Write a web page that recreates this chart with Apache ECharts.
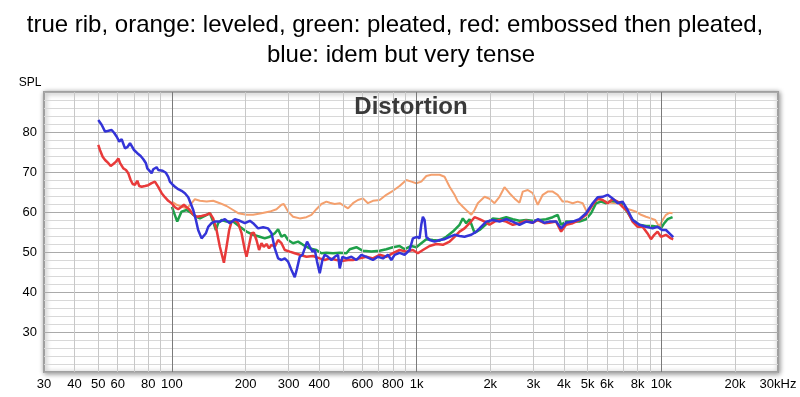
<!DOCTYPE html>
<html>
<head>
<meta charset="utf-8">
<script src="https://cdn.jsdelivr.net/npm/echarts@6/dist/echarts.min.js"></script>
<style>
  html, body { margin: 0; padding: 0; background: #fff; }
  #chart { width: 800px; height: 397px; }
</style>
</head>
<body>
<div id="chart"></div>
<script>
// axis ticks (Hz / dB)
var xLabelValues = [30, 40, 50, 60, 80, 100, 200, 300, 400, 600, 800, 1000, 2000, 3000, 4000, 5000, 6000, 8000, 10000, 20000, 30000];
var xMinorLines = [40, 50, 60, 70, 80, 90, 200, 300, 400, 500, 600, 700, 800, 900,
  2000, 3000, 4000, 5000, 6000, 7000, 8000, 9000, 20000];
var xDecadeLines = [100, 1000, 10000];
var yLabelValues = [30, 40, 50, 60, 70, 80];

// blue: idem but very tense
var blueHz = [
  50, 51.6, 53.3, 55, 56.7, 58, 59.5, 60.9, 62.3, 64.3,
  65.7, 67.4, 70, 72.2, 74.5, 76.4, 78.3, 79.3, 80.8, 82.6,
  83.9, 86.6, 87.9, 89.3, 91.6, 94.5, 96.6, 98.1, 100.7, 102.9,
  106.1, 109.5, 113, 116.6, 119.2, 122.2, 125.3, 128, 132.2, 134.2,
  137.7, 140.7, 145.2, 149.8, 157, 164.6, 172.5, 180.8, 189.5, 198.6,
  208.2, 214.7, 225, 235.9, 247.2, 255.3, 263.3, 271.6, 280.4, 289.2,
  298.3, 308, 317.7, 324.7, 333, 341.6, 349.1, 356.7, 365.9, 375.3,
  383.5, 391.9, 401.9, 412.2, 421.2, 434.5, 448.6, 462.8, 477.4, 485.1,
  497.5, 516.6, 541.5, 567.5, 594.8, 623.4, 663.1, 695, 728.5, 763.6,
  788.3, 813.2, 852.3, 893.3, 936.3, 965.8, 1003, 1028, 1045, 1061,
  1078, 1096, 1130, 1185, 1242, 1301, 1364, 1429, 1498, 1570,
  1673, 1753, 1808, 1926, 2049, 2182, 2324, 2472, 2633, 2804,
  2983, 3127, 3331, 3491, 3718, 3896, 4083, 4345, 4628, 4928,
  5244, 5495, 5759, 6036, 6326, 6629, 6950, 7285, 7636, 8133,
  8662, 9215, 9658, 10067, 10452, 10955, 11194
];
var blueSpl = [
  83, 81.8, 80.1, 80.3, 80.5, 79.8, 78.8, 77.6, 78.2, 75.9,
  76.2, 77.2, 75.5, 74.7, 74, 73.2, 72.2, 70.9, 70.5, 69.7,
  70.7, 71.2, 70.5, 70.1, 70.3, 69.8, 68.8, 67.6, 66.8, 66.3,
  65.7, 65.3, 64.7, 63.7, 62.2, 60.5, 58, 55.5, 53.4, 53,
  54.7, 56.3, 57.2, 57.6, 57.6, 58.2, 57.2, 58.2, 57.8, 57.2,
  57.8, 57.2, 55.9, 56.2, 55.9, 54.7, 50.9, 48.4, 48, 48.4,
  47.6, 45.5, 43.7, 45.9, 48.8, 49.3, 50.9, 52.6, 51.3, 50.1,
  50.5, 47.6, 44.7, 48, 49.3, 48.8, 48, 48.8, 49.3, 45.9,
  48.8, 48.4, 48.8, 48, 49.3, 48.8, 48, 48.8, 48.4, 49.3,
  48, 49.3, 49.8, 49.3, 50.5, 53.4, 53.8, 53.4, 56.8, 58.8,
  58, 53.8, 53, 52.6, 53, 53.2, 53.8, 54.3, 54, 53.8,
  54.3, 55.1, 55.9, 57.6, 58, 57.6, 58.2, 57.6, 56.8, 57.6,
  57.3, 58.2, 57.3, 57.6, 57.6, 55.9, 57.3, 57.6, 58.2, 59.7,
  62.2, 63.7, 63.8, 64.3, 63.4, 62.2, 62.6, 60.5, 58, 56.8,
  56.3, 55.9, 56.3, 55.5, 55.5, 54.3, 53.7
];

// red: embossed then pleated
var redHz = [
  50, 50.8, 52.1, 53.3, 55, 56.2, 57.6, 59.1, 60.4, 61.4,
  63.3, 64.9, 66.3, 67.8, 69.1, 70.6, 72.2, 73.5, 75.2, 77.6,
  80, 82.6, 85.2, 87.9, 90.8, 93.6, 96.6, 99.7, 102.9, 106.1,
  109.5, 111.9, 114.8, 117.6, 122.2, 126.1, 132.2, 138.6, 142.9, 147.4,
  152.2, 157, 163.1, 167.2, 171.4, 175.3, 180.8, 186.5, 192.6, 198.6,
  201.8, 206.8, 211.5, 216.1, 221.6, 227.1, 232.3, 237.4, 243.5, 249.5,
  255.3, 263.3, 271.6, 280.4, 289.2, 303.1, 317.7, 333, 354.6, 377.3,
  401.9, 421.2, 441.5, 470.1, 500.4, 524.4, 549.5, 585.2, 623.4, 663.1,
  706.3, 752, 800.4, 852.3, 907.8, 965.8, 1012, 1061, 1130, 1204,
  1281, 1364, 1429, 1498, 1570, 1646, 1725, 1808, 1896, 1986,
  2082, 2182, 2324, 2472, 2633, 2804, 2983, 3127, 3331, 3491,
  3718, 3896, 4083, 4345, 4628, 4928, 5244, 5495, 5759, 6036,
  6326, 6629, 6950, 7285, 7636, 8006, 8389, 8777, 9078, 9364,
  9658, 9972, 10452, 10955, 11194
];
var redSpl = [
  76.8, 75.5, 73.8, 73, 72.2, 71.5, 72, 72.6, 73.4, 72.2,
  70.9, 70.5, 69.7, 68, 67, 66.8, 67.8, 66.5, 66.3, 66.5,
  66.7, 67.2, 67.6, 66.3, 64.7, 63.7, 62.8, 62.2, 61.2, 60.7,
  61.3, 61.8, 61.2, 60.7, 59.3, 58.8, 59, 59.3, 59.7, 58.4,
  55.5, 51.3, 47.3, 51.3, 55.5, 57.6, 58, 57.2, 54.7, 50.5,
  48.8, 51.8, 54.7, 54.8, 53, 50.5, 52.2, 51.3, 52, 50.9,
  51.8, 51.3, 53, 52.2, 50.5, 50.1, 49.7, 49.3, 48.8, 49,
  48.4, 48, 48.4, 48, 47.8, 48, 48, 48.4, 48.8, 48.4,
  49.3, 48.8, 49.7, 50.5, 50.1, 50.5, 49.7, 50.5, 51.5, 52,
  51.8, 52.6, 53.8, 55.1, 55.9, 57.2, 58.7, 58.2, 57.6, 56.8,
  57.6, 58, 57.6, 56.8, 57.2, 57.8, 57.3, 58, 57.2, 57.3,
  57.6, 55.1, 56.8, 57.2, 58, 59.3, 61.8, 63.4, 63, 62.2,
  63.2, 62.6, 61.3, 60.1, 57.6, 56.3, 56.3, 54.7, 53.2, 54.3,
  55.1, 53.8, 54.3, 53.4, 53.2
];

// green: pleated
var greenHz = [
  100, 105.1, 109.5, 114.8, 120.4, 124.1, 130.1, 136.3, 142.9, 147.4,
  151.2, 154.5, 159.6, 167.2, 177.9, 189.5, 201.8, 214.7, 228.6, 239.6,
  251.2, 263.3, 271.6, 280.4, 289.2, 298.3, 312.7, 327.8, 343.5, 365.9,
  389.5, 408.3, 427.9, 455.5, 485.1, 516.6, 532.8, 567.5, 603.6, 653.3,
  706.3, 752, 800.4, 852.3, 893.3, 951.5, 997.2, 1045, 1096, 1166,
  1242, 1322, 1407, 1498, 1545, 1595, 1646, 1725, 1808, 1926,
  2049, 2182, 2324, 2472, 2633, 2804, 2983, 3177, 3384, 3600,
  3773, 3896, 4083, 4345, 4628, 4928, 5166, 5415, 5675, 5948,
  6234, 6533, 6847, 7177, 7636, 8133, 8662, 9215, 9658, 9972,
  10285, 10610, 11121
];
var greenSpl = [
  61.3, 57.6, 60.1, 60.5, 59.7, 59, 58.4, 59, 59.7, 57.6,
  55.5, 57.2, 58, 57.6, 57.6, 56.3, 55.1, 54.3, 53.8, 53.4,
  53.8, 54.7, 55.7, 53.8, 54.3, 53, 52.2, 52.6, 51.8, 50.9,
  50.5, 49.7, 49.8, 49.7, 49.8, 49.7, 50.7, 51.2, 50.3, 50.1,
  50.3, 50.7, 51.2, 51.5, 50.7, 51.5, 51.2, 52.2, 53.2, 53,
  52.8, 53.8, 55.1, 56.8, 58.4, 57.2, 58.2, 54.8, 55.5, 57,
  58.4, 58.2, 58.7, 58.2, 57.8, 58, 57.8, 58, 58.2, 58.7,
  59.3, 56.8, 57.6, 57.6, 57.6, 58.2, 59.7, 62.2, 62.6, 62.2,
  62.8, 62.6, 62.3, 60.5, 58, 56.8, 56.5, 56.5, 56.3, 55.9,
  57.2, 58.2, 58.7
];

// orange: leveled
var orangeHz = [
  100, 104.5, 114.8, 120.4, 124.1, 130.1, 138.6, 147.4, 157, 167.2,
  177.9, 186.5, 201.8, 214.7, 232.3, 251.2, 267.5, 280.4, 286.5, 298.3,
  312.7, 333, 354.6, 371.7, 389.5, 408.3, 427.9, 441.5, 462.8, 485.1,
  524.4, 549.5, 575.8, 603.6, 632.5, 663.1, 706.3, 752, 800.4, 852.3,
  907.8, 951.5, 997.2, 1045, 1096, 1148, 1242, 1301, 1364, 1429,
  1475, 1545, 1620, 1673, 1725, 1779, 1896, 1986, 2082, 2182,
  2287, 2397, 2512, 2633, 2716, 2847, 2983, 3127, 3278, 3435,
  3600, 3773, 3954, 4146, 4345, 4555, 4774, 4957, 5166, 5415,
  5675, 5948, 6234, 6533, 6847, 7177, 7521, 7883, 8262, 8662,
  9078, 9452, 9813, 10123, 10452, 10782, 11121
];
var orangeSpl = [
  62.6, 61.8, 60.9, 62.2, 63.2, 62.8, 62.6, 62.8, 62.2, 61.5,
  60.5, 59.7, 59.3, 59.3, 59.7, 60.1, 60.7, 61.8, 62, 60.1,
  58.8, 58.4, 58.7, 59.3, 60.7, 62, 62.6, 62.3, 62, 62.2,
  60.9, 62.2, 63, 63.4, 62.2, 62.8, 63, 64.3, 65.3, 66.5,
  68, 67.6, 67.2, 67.6, 69, 69.3, 69.3, 68.8, 66.3, 64.3,
  62.6, 61.3, 60.1, 59.3, 60.5, 62.2, 63.8, 63.3, 62.2, 63.8,
  66.2, 64.7, 63.4, 62.3, 65.1, 65.5, 64.7, 61.8, 64.3, 65.1,
  65.1, 64.3, 62.6, 62.6, 62.2, 62.6, 62.2, 60.1, 61.3, 63.2,
  62.6, 62.6, 62.3, 62.2, 62.6, 60.9, 60.5, 60.1, 59.3, 58.8,
  58.4, 58, 56.3, 58, 59.3, 59.8, 59.7
];

function pairs(hz, spl) {
  return hz.map(function (f, i) { return [f, spl[i]]; });
}

function freqLabel(v) {
  var f = Math.round(v);
  if (f >= 30000) return "30kHz";
  if (f >= 1000) return (f / 1000) + "k";
  return String(f);
}

var font = "Liberation Sans, Arial, sans-serif";

var chart = echarts.init(document.getElementById("chart"));

var vLines = xMinorLines.map(function (f) {
  return { xAxis: f, lineStyle: { color: "#c8c8c8", width: 1, type: "solid" } };
}).concat(xDecadeLines.map(function (f) {
  return { xAxis: f, lineStyle: { color: "#7a7a7a", width: 1, type: "solid" } };
}));

function curve(name, color, width, hz, spl, z) {
  return {
    name: name,
    type: "line",
    data: pairs(hz, spl),
    symbol: "none",
    smooth: false,
    z: z,
    lineStyle: { color: color, width: width },
    itemStyle: { color: color },
    animation: false
  };
}

var option = {
  backgroundColor: "#ffffff",
  animation: false,
  graphic: [
    {
      type: "text", x: 395, y: 25,
      style: {
        text: "true rib, orange: leveled, green: pleated, red: embossed then pleated,",
        align: "center", verticalAlign: "middle",
        fontSize: 24, fontFamily: font, fill: "#000"
      }
    },
    {
      type: "text", x: 401, y: 55,
      style: {
        text: "blue: idem but very tense",
        align: "center", verticalAlign: "middle",
        fontSize: 24, fontFamily: font, fill: "#000"
      }
    },
    {
      type: "text", x: 30, y: 83, z: 10,
      style: {
        text: "SPL", align: "center", verticalAlign: "middle",
        fontSize: 12, fontFamily: font, fill: "#000"
      }
    },
    {
      type: "text", x: 411, y: 107, z: 10,
      style: {
        text: "Distortion", align: "center", verticalAlign: "middle",
        fontSize: 24, fontWeight: "bold", fontFamily: font, fill: "#3a3a3a"
      }
    }
  ],
  grid: {
    left: 44, right: 22, top: 92, bottom: 25,
    containLabel: false,
    outerBoundsMode: "none",
    show: true,
    backgroundColor: "#ffffff",
    borderColor: "#a0a0a0",
    borderWidth: 2,
    shadowColor: "rgba(0,0,0,0.4)",
    shadowBlur: 5,
    shadowOffsetX: 1,
    shadowOffsetY: 1
  },
  xAxis: {
    type: "log",
    logBase: 10,
    min: 30,
    max: 30000,
    axisLine: { show: false },
    axisTick: { show: false },
    splitLine: { show: false },
    minorSplitLine: { show: false },
    axisLabel: {
      customValues: xLabelValues,
      formatter: freqLabel,
      margin: 6,
      fontSize: 13,
      fontFamily: font,
      color: "#000",
      showMinLabel: true,
      showMaxLabel: true
    }
  },
  yAxis: {
    type: "value",
    min: 20,
    max: 90,
    interval: 2,
    axisLine: { show: false },
    axisTick: { show: false },
    splitLine: {
      show: true,
      lineStyle: { color: ["#aaaaaa", "#d8d8d8", "#d8d8d8", "#d8d8d8", "#d8d8d8"], width: 1 }
    },
    axisLabel: {
      customValues: yLabelValues,
      margin: 7,
      fontSize: 13,
      fontFamily: font,
      color: "#000"
    }
  },
  series: [
    {
      name: "grid",
      type: "line",
      data: [],
      z: 1,
      silent: true,
      markLine: {
        silent: true,
        symbol: "none",
        label: { show: false },
        animation: false,
        data: vLines
      }
    },
    curve("orange: leveled", "#f4a06e", 2, orangeHz, orangeSpl, 3),
    curve("green: pleated", "#1fa04a", 2.5, greenHz, greenSpl, 4),
    curve("red: embossed then pleated", "#e83a3a", 2.5, redHz, redSpl, 5),
    curve("blue: idem but very tense", "#3434d8", 2.5, blueHz, blueSpl, 6)
  ]
};

chart.setOption(option);
</script>
</body>
</html>
